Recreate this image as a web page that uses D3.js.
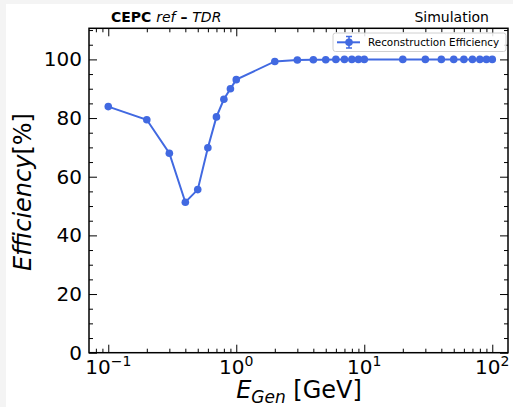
<!DOCTYPE html>
<html>
<head>
<meta charset="utf-8">
<script src="https://cdn.jsdelivr.net/npm/d3@7"></script>
<style>
  body { margin: 0; background: #fff; }
  text { font-family: "DejaVu Sans", sans-serif; fill: #000; }
</style>
</head>
<body>
<div id="chart"></div>
<script>
// data
const energies = [0.1, 0.2, 0.3, 0.4, 0.5, 0.6, 0.7, 0.8, 0.9, 1,
  2, 3, 4, 5, 6, 7, 8, 9, 10,
  20, 30, 40, 50, 60, 70, 80, 90, 100]
const efficiency = [83.9, 79.4, 68.0, 51.3, 55.6, 69.9, 80.4, 86.4, 90.0, 93.1,
  99.3, 99.8, 99.9, 99.9, 100, 100, 100, 100, 100,
  100, 100, 100, 100, 100, 100, 100, 100, 100]
const yTicks = [0, 20, 40, 60, 80, 100]
const xMajor = [0.1, 1, 10, 100]
const xTickSup = ["\u22121", "0", "1", "2"]
const seriesName = "Reconstruction Efficiency"

const W = 513, H = 407
const margins = { top: 28.3, right: 5, bottom: 54.3, left: 89 }
const anc = W - margins.left - margins.right
const alt = H - margins.top - margins.bottom
const blue = "#4169e1"

const svg = d3.select("#chart").append("svg")
  .attr("width", W).attr("height", H)

// faint grey frame like the screenshot
svg.append("rect").attr("width", W).attr("height", H).attr("fill", "#f4f4f4")
svg.append("rect").attr("x", 6).attr("y", 4).attr("width", W - 6).attr("height", H - 4).attr("fill", "#fff")

const g = svg.append("g")
  .attr("transform", "translate(" + margins.left + "," + margins.top + ")")

const x = d3.scaleLog().domain([0.0707, 132.7]).range([0, anc])
const y = d3.scaleLinear().domain([0, 110.6]).range([alt, 0])

// minor ticks for log axis
const xMinor = []
for (const dec of [0.01, 0.1, 1, 10, 100]) {
  for (let k = 2; k <= 9; k++) {
    const v = k * dec
    if (v >= x.domain()[0] && v <= x.domain()[1]) xMinor.push(v)
  }
}
const yMinor = d3.range(0, 111, 5).filter(v => v % 20 !== 0)

function tickAxis(axisFn, scale, vals, len) {
  return axisFn(scale).tickValues(vals).tickSizeInner(-len).tickSizeOuter(0).tickFormat("")
}

// bottom
g.append("g").attr("transform", "translate(0," + alt + ")")
  .call(tickAxis(d3.axisBottom, x, xMajor, 8))
g.append("g").attr("transform", "translate(0," + alt + ")")
  .call(tickAxis(d3.axisBottom, x, xMinor, 4))
// top
g.append("g").call(tickAxis(d3.axisTop, x, xMajor, 8))
g.append("g").call(tickAxis(d3.axisTop, x, xMinor, 4))
// left
g.append("g").call(tickAxis(d3.axisLeft, y, yTicks, 8))
g.append("g").call(tickAxis(d3.axisLeft, y, yMinor, 4))
// right
g.append("g").attr("transform", "translate(" + anc + ",0)")
  .call(tickAxis(d3.axisRight, y, yTicks, 8))
g.append("g").attr("transform", "translate(" + anc + ",0)")
  .call(tickAxis(d3.axisRight, y, yMinor, 4))

g.selectAll(".domain").remove()
g.selectAll(".tick line").attr("stroke", "#000").attr("stroke-width", 1)

// frame
g.append("rect").attr("width", anc).attr("height", alt)
  .attr("fill", "none").attr("stroke", "#000").attr("stroke-width", 1.5)

// y tick labels
g.selectAll(".ylab").data(yTicks).enter().append("text")
  .attr("x", -7).attr("y", d => y(d) + 7)
  .attr("text-anchor", "end").style("font-size", "20px")
  .text(d => d)

// x tick labels 10^n
const xl = g.selectAll(".xlab").data(xMajor).enter().append("text")
  .attr("x", d => x(d)).attr("y", alt + 21.5)
  .attr("text-anchor", "middle").style("font-size", "20px")
xl.append("tspan").text("10")
xl.append("tspan").attr("dy", -8).style("font-size", "14px")
  .text((d, i) => xTickSup[i])

// axis titles
svg.append("text")
  .attr("transform", "translate(31,192) rotate(-90)")
  .attr("text-anchor", "middle").style("font-size", "24px")
  .call(t => {
    t.append("tspan").style("font-style", "italic").text("Efficiency")
    t.append("tspan").text("[%]")
  })

const xt = svg.append("text")
  .attr("x", 299).attr("y", 398)
  .attr("text-anchor", "middle").style("font-size", "24px")
xt.append("tspan").style("font-style", "italic").text("E")
xt.append("tspan").attr("dy", 5).style("font-size", "17px").style("font-style", "italic").text("Gen")
xt.append("tspan").attr("dy", -5).text(" [GeV]")

// header
const hdr = svg.append("text").attr("x", 111).attr("y", 21.5).style("font-size", "14px")
hdr.append("tspan").style("font-weight", "bold").text("CEPC ")
hdr.append("tspan").style("font-style", "italic").text("ref")
hdr.append("tspan").style("font-weight", "bold").text(" \u2013 ")
hdr.append("tspan").style("font-style", "italic").text("TDR")
svg.append("text").attr("x", 489).attr("y", 21.5).attr("text-anchor", "end")
  .style("font-size", "14px").text("Simulation")

// line + markers
const data = energies.map((e, i) => ({ e: e, v: efficiency[i] }))
g.append("path").datum(data)
  .attr("fill", "none").attr("stroke", blue).attr("stroke-width", 2)
  .attr("d", d3.line().x(d => x(d.e)).y(d => y(d.v)))
g.selectAll(".dot").data(data).enter().append("circle")
  .attr("cx", d => x(d.e)).attr("cy", d => y(d.v)).attr("r", 3.8)
  .attr("fill", blue)

// legend
const lg = svg.append("g").attr("transform", "translate(333,33)")
lg.append("rect").attr("width", 173).attr("height", 18.5).attr("rx", 2.5)
  .attr("fill", "#fff").attr("fill-opacity", 0.85).attr("stroke", "#d0d0d0").attr("stroke-width", 1)
lg.append("line").attr("x1", 4).attr("x2", 27).attr("y1", 9.3).attr("y2", 9.3)
  .attr("stroke", blue).attr("stroke-width", 2)
lg.append("line").attr("x1", 16).attr("x2", 16).attr("y1", 3.5).attr("y2", 15)
  .attr("stroke", blue).attr("stroke-width", 1.5)
lg.append("line").attr("x1", 13).attr("x2", 19).attr("y1", 3.5).attr("y2", 3.5)
  .attr("stroke", blue).attr("stroke-width", 1.5)
lg.append("line").attr("x1", 13).attr("x2", 19).attr("y1", 15).attr("y2", 15)
  .attr("stroke", blue).attr("stroke-width", 1.5)
lg.append("circle").attr("cx", 16).attr("cy", 9.3).attr("r", 3.8).attr("fill", blue)
lg.append("text").attr("x", 35).attr("y", 13.2).style("font-size", "10.4px").text(seriesName)
</script>
</body>
</html>
